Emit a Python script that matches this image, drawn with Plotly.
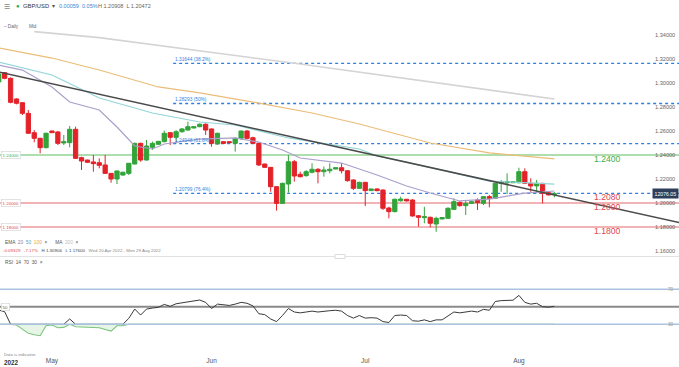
import pandas as pd
import plotly.graph_objects as go

W, H = 679, 367

# ---------------- data ----------------
# IG style daily sessions (Sunday to Friday), Wed 20 Apr 2022 .. Mon 8 Aug 2022
DATES = pd.bdate_range("2022-04-20", "2022-08-08", freq="C",
                       weekmask="Sun Mon Tue Wed Thu Fri")

OPEN = [1.3009, 1.3086, 1.3039, 1.2867, 1.2836, 1.2747, 1.2586, 1.2539, 1.2461, 1.2600,
        1.2592, 1.2500, 1.2503, 1.2614, 1.2378, 1.2358, 1.2342, 1.2336, 1.2317, 1.2247,
        1.2200, 1.2233, 1.2247, 1.2325, 1.2497, 1.2358, 1.2464, 1.2489, 1.2511, 1.2586,
        1.2547, 1.2594, 1.2608, 1.2625, 1.2636, 1.2656, 1.2617, 1.2492, 1.2511, 1.2511,
        1.2497, 1.2539, 1.2600, 1.2544, 1.2497, 1.2325, 1.2297, 1.2136, 1.1997, 1.2158,
        1.2344, 1.2239, 1.2228, 1.2256, 1.2281, 1.2261, 1.2269, 1.2283, 1.2294, 1.2269,
        1.2192, 1.2122, 1.2172, 1.2103, 1.2117, 1.2108, 1.1958, 1.1928, 1.2019, 1.2031,
        1.2025, 1.1894, 1.1878, 1.1881, 1.1825, 1.1867, 1.1872, 1.1947, 1.2006, 1.1978,
        1.1997, 1.2025, 1.1997, 1.2053, 1.2039, 1.2164, 1.2169, 1.2169, 1.2169, 1.2261,
        1.2164, 1.2142, 1.2164, 1.2086, 1.2070]
HIGH = [1.3086, 1.3091, 1.3047, 1.2872, 1.2839, 1.2775, 1.2608, 1.2544, 1.2586, 1.2603,
        1.2600, 1.2567, 1.2642, 1.2636, 1.2386, 1.2361, 1.2400, 1.2372, 1.2400, 1.2250,
        1.2270, 1.2261, 1.2333, 1.2503, 1.2503, 1.2525, 1.2511, 1.2517, 1.2603, 1.2589,
        1.2608, 1.2625, 1.2678, 1.2639, 1.2664, 1.2664, 1.2622, 1.2586, 1.2514, 1.2514,
        1.2544, 1.2603, 1.2608, 1.2553, 1.2503, 1.2328, 1.2300, 1.2142, 1.2169, 1.2400,
        1.2358, 1.2261, 1.2275, 1.2331, 1.2289, 1.2303, 1.2331, 1.2297, 1.2331, 1.2275,
        1.2197, 1.2178, 1.2175, 1.2119, 1.2122, 1.2114, 1.1969, 1.2036, 1.2053, 1.2033,
        1.2031, 1.1900, 1.1969, 1.1886, 1.1886, 1.1881, 1.1964, 1.2039, 1.2014, 1.2025,
        1.2019, 1.2039, 1.2058, 1.2067, 1.2169, 1.2192, 1.2247, 1.2181, 1.2294, 1.2289,
        1.2206, 1.2192, 1.2167, 1.2089, 1.2091]
LOW = [1.3000, 1.3031, 1.2831, 1.2822, 1.2733, 1.2575, 1.2506, 1.2414, 1.2456, 1.2583,
       1.2483, 1.2483, 1.2464, 1.2367, 1.2275, 1.2333, 1.2261, 1.2289, 1.2242, 1.2169,
       1.2158, 1.2228, 1.2233, 1.2322, 1.2344, 1.2353, 1.2442, 1.2486, 1.2506, 1.2483,
       1.2497, 1.2586, 1.2603, 1.2622, 1.2631, 1.2567, 1.2469, 1.2483, 1.2492, 1.2500,
       1.2428, 1.2525, 1.2531, 1.2492, 1.2308, 1.2294, 1.2094, 1.1936, 1.1992, 1.2086,
       1.2178, 1.2214, 1.2219, 1.2247, 1.2164, 1.2219, 1.2247, 1.2281, 1.2247, 1.2178,
       1.2108, 1.2117, 1.1975, 1.2100, 1.2097, 1.1942, 1.1872, 1.1922, 1.2011, 1.2014,
       1.1886, 1.1803, 1.1831, 1.1797, 1.1760, 1.1864, 1.1867, 1.1942, 1.1969, 1.1900,
       1.1992, 1.1942, 1.1983, 1.1964, 1.2033, 1.2094, 1.2075, 1.2167, 1.2164, 1.2158,
       1.2094, 1.2081, 1.1997, 1.2064, 1.2047]
CLOSE = [1.3075, 1.3039, 1.2839, 1.2831, 1.2747, 1.2581, 1.2539, 1.2461, 1.2581, 1.2586,
         1.2497, 1.2511, 1.2614, 1.2372, 1.2350, 1.2339, 1.2328, 1.2314, 1.2247, 1.2200,
         1.2267, 1.2256, 1.2331, 1.2497, 1.2358, 1.2475, 1.2497, 1.2514, 1.2581, 1.2547,
         1.2594, 1.2617, 1.2636, 1.2636, 1.2656, 1.2608, 1.2497, 1.2581, 1.2497, 1.2503,
         1.2539, 1.2600, 1.2539, 1.2497, 1.2317, 1.2297, 1.2136, 1.1997, 1.2164, 1.2344,
         1.2225, 1.2219, 1.2261, 1.2281, 1.2261, 1.2275, 1.2281, 1.2294, 1.2269, 1.2186,
         1.2122, 1.2172, 1.2103, 1.2117, 1.2103, 1.1956, 1.1928, 1.2031, 1.2033, 1.2017,
         1.1892, 1.1881, 1.1886, 1.1831, 1.1872, 1.1878, 1.1956, 1.2011, 1.1978, 1.1997,
         1.2011, 1.2003, 1.2053, 1.2039, 1.2164, 1.2178, 1.2178, 1.2178, 1.2261, 1.2164,
         1.2142, 1.2164, 1.2081, 1.2067, 1.2076]

EMA20_DATES = ["2022-04-20", "2022-04-25", "2022-05-01", "2022-05-04", "2022-05-10",
               "2022-05-13", "2022-05-17", "2022-05-20", "2022-05-23", "2022-05-30",
               "2022-06-06", "2022-06-10", "2022-06-15", "2022-06-19", "2022-06-27",
               "2022-07-04", "2022-07-10", "2022-07-14", "2022-07-20", "2022-07-26",
               "2022-08-02", "2022-08-08"]
EMA20 = [1.3150, 1.3108, 1.2967, 1.2842, 1.2775, 1.2633, 1.2475, 1.2450, 1.2492, 1.2533,
         1.2542, 1.2508, 1.2442, 1.2375, 1.2333, 1.2233, 1.2142, 1.2083, 1.2017, 1.2033,
         1.2083, 1.2100]

EMA50_DATES = ["2022-04-20", "2022-05-01", "2022-05-10", "2022-05-20", "2022-05-30",
               "2022-06-06", "2022-06-16", "2022-06-30", "2022-07-04", "2022-07-13",
               "2022-07-26", "2022-08-08"]
EMA50 = [1.3175, 1.3067, 1.2875, 1.2750, 1.2675, 1.2650, 1.2542, 1.2450, 1.2392, 1.2308,
         1.2183, 1.2158]

EMA100_DATES = ["2022-04-20", "2022-05-01", "2022-05-10", "2022-05-22", "2022-05-30",
                "2022-06-10", "2022-06-21", "2022-06-30", "2022-07-14", "2022-07-26",
                "2022-08-08"]
EMA100 = [1.3292, 1.3208, 1.3108, 1.2967, 1.2917, 1.2833, 1.2750, 1.2658, 1.2500, 1.2417,
          1.2367]

MA200_DATES = ["2022-04-27", "2022-05-10", "2022-06-19", "2022-07-18", "2022-08-08"]
MA200 = [1.3428, 1.3378, 1.3158, 1.2992, 1.2867]

TREND_DATES = ["2022-04-19", "2022-09-02"]
TREND = [1.3103, 1.1827]

RSI = [46.2, 44.3, 29.9, 29.1, 24.0, 19.6, 18.0, 16.9, 28.3, 29.1,
       26.0, 26.4, 36.0, 27.1, 26.8, 26.4, 26.2, 26.0, 24.0, 22.2,
       28.3, 28.3, 36.7, 47.4, 40.5, 47.4, 48.5, 49.3, 52.7, 50.5,
       53.4, 54.5, 55.7, 56.5, 57.7, 55.0, 48.0, 53.0, 52.0, 51.5,
       53.0, 55.0, 54.0, 51.0, 42.0, 41.0, 36.0, 33.0, 40.0, 48.0,
       44.0, 43.0, 44.0, 45.0, 44.0, 45.0, 45.5, 46.0, 45.0, 40.0,
       37.0, 40.0, 37.0, 37.5, 37.0, 33.0, 32.0, 40.0, 40.5, 40.0,
       34.0, 33.5, 35.0, 33.0, 35.0, 35.0, 40.0, 44.0, 43.0, 44.0,
       45.0, 44.0, 47.0, 46.0, 56.0, 57.0, 57.5, 57.5, 63.0, 55.0,
       53.0, 54.0, 50.0, 49.5, 50.5]

LEVELS = [1.24, 1.20, 1.18]
LEVEL_COLORS = ["#3fae49", "#e2474b", "#e2474b"]
LEVEL_LINE_COLORS = ["#93d293", "#ec9a9a", "#ec9a9a"]
LEVEL_BOX_TEXT = ["1.24000", "1.20000", "1.18000"]
BIG_LABELS = [("1.2400", 1.2400, "#3fae49"), ("1.2080", 1.2080, "#e2474b"),
              ("1.2000", 1.2000, "#e2474b"), ("1.1800", 1.1800, "#e2474b")]

FIB_LEVELS = [1.31644, 1.28293, 1.24948, 1.20799]
FIB_LABELS = ["1.31644 (38.2%)", "1.28293 (50%)", "1.24948 (61.8%)", "1.20799 (76.4%)"]
FIB_START = "2022-05-24 12:00"

PRICE_TICKS = [1.16, 1.18, 1.20, 1.22, 1.24, 1.26, 1.28, 1.30, 1.32, 1.34]
RSI_TICKS = [30, 70]
MONTH_TICKS = ["2022-05-01", "2022-06-01", "2022-07-01", "2022-08-01"]
MONTH_LABELS = ["May", "Jun", "Jul", "Aug"]
LAST_PRICE = 1.2076
LAST_LABEL = "12076.05"

X_RANGE = ["2022-04-20 05:00", "2022-09-01 02:00"]

FONT = "Liberation Sans, Arial, sans-serif"
GREEN = "#33a43a"
RED = "#e3222a"


def px(x):
    return x / W


def py(y):
    return 1 - y / H


MAIN_DOM = [py(255), py(18)]
RSI_DOM = [py(350.5), py(263)]

fig = go.Figure()

# moving averages + trend line
for xs, ys, col, wd in [(MA200_DATES, MA200, "#d4d4d4", 1.6),
                        (EMA100_DATES, EMA100, "#ebbd78", 1.2),
                        (EMA50_DATES, EMA50, "#93d5d8", 1.2),
                        (EMA20_DATES, EMA20, "#ab9fcb", 1.2),
                        (TREND_DATES, TREND, "#4a4a4a", 1.5)]:
    fig.add_trace(go.Scatter(x=xs, y=ys, mode="lines", line=dict(color=col, width=wd),
                             hoverinfo="skip", showlegend=False, xaxis="x", yaxis="y"))

fig.add_trace(go.Candlestick(
    x=DATES, open=OPEN, high=HIGH, low=LOW, close=CLOSE,
    increasing=dict(line=dict(color=GREEN, width=1), fillcolor=GREEN),
    decreasing=dict(line=dict(color=RED, width=1), fillcolor=RED),
    whiskerwidth=0, showlegend=False, hoverinfo="skip", xaxis="x", yaxis="y"))

# RSI panel
rsi_low = [min(v, 30) for v in RSI]
rsi_high = [max(v, 30) for v in RSI]
fig.add_trace(go.Scatter(x=DATES, y=[30] * len(RSI), mode="lines",
                         line=dict(width=0, color="rgba(0,0,0,0)"), hoverinfo="skip",
                         showlegend=False, xaxis="x2", yaxis="y2"))
fig.add_trace(go.Scatter(x=DATES, y=rsi_low, mode="lines", fill="tonexty",
                         fillcolor="rgba(120,200,120,0.18)",
                         line=dict(color="#7cc47c", width=1.1), hoverinfo="skip",
                         showlegend=False, xaxis="x2", yaxis="y2"))
fig.add_trace(go.Scatter(x=DATES, y=rsi_high, mode="lines",
                         line=dict(color="#3a3a3a", width=1), hoverinfo="skip",
                         showlegend=False, xaxis="x2", yaxis="y2"))

shapes = []
for lv, col in zip(LEVELS, LEVEL_LINE_COLORS):
    shapes.append(dict(type="line", xref="paper", yref="y", x0=0, x1=1, y0=lv, y1=lv,
                       line=dict(color=col, width=1.6), layer="below"))
for lv in FIB_LEVELS:
    shapes.append(dict(type="line", xref="x", yref="y", x0=FIB_START, x1="2022-09-02",
                       y0=lv, y1=lv, line=dict(color="#2f7fe0", width=1.3, dash="dot"),
                       layer="below"))
shapes.append(dict(type="line", xref="paper", yref="y2", x0=0, x1=1, y0=50, y1=50,
                   line=dict(color="#8a8a8a", width=2), layer="below"))
for lv in [70, 30]:
    shapes.append(dict(type="line", xref="paper", yref="y2", x0=0, x1=1, y0=lv, y1=lv,
                       line=dict(color="#a9c3e0", width=1.3), layer="above"))
# panel splitter
shapes.append(dict(type="line", xref="paper", yref="paper", x0=0, x1=1,
                   y0=py(256.5), y1=py(256.5), line=dict(color="#e2e2e2", width=1)))
shapes.append(dict(type="rect", xref="paper", yref="paper", x0=px(335), x1=px(345),
                   y0=py(258.5), y1=py(254.5), line=dict(color="#c8c8c8", width=0.6),
                   fillcolor="white"))

ann = []


def txt(x, y, text, size=5.5, color="#555", anchor="left", **kw):
    ann.append(dict(x=px(x), y=py(y), xref="paper", yref="paper", text=text,
                    showarrow=False, xanchor=anchor, yanchor="middle",
                    font=dict(size=size, color=color, family=FONT), **kw))


# header
txt(2, 6.5, "☰", size=7, color="#888")
txt(14, 6.5, "●", size=6, color="#2aa845")
txt(21, 6.5, "GBP/USD", size=5.8, color="#333")
txt(50, 6.5, "▾", size=6, color="#555")
txt(57, 6.5, "0.00059", size=5.5, color="#3b86d1")
txt(80, 6.5, "0.05%", size=5.5, color="#3b86d1")
txt(96, 6.5, "H 1.20908  L 1.20472", size=5.5, color="#666")
txt(2, 26, "– Daily", size=4.6, color="#666")
txt(27, 26, "Mid", size=4.6, color="#666")

# legends under main chart
txt(3, 242, "EMA  <span style='color:#8a7fb8'>20</span>  "
            "<span style='color:#45a9cc'>50</span>  "
            "<span style='color:#e5a34d'>100</span>  ×      MA  "
            "<span style='color:#c0c0c0'>200</span>  ×", size=4.8, color="#555")
txt(1, 250.5, "<span style='color:#e2474b'>-0.09329   -7.17%</span>   H 1.30906   "
              "L 1.17600   <span style='color:#888'>Wed 20 Apr 2022 - Mon 29 Aug 2022</span>",
    size=4.4, color="#444")
txt(3, 262, "RSI  14  70  30  ×", size=4.8, color="#555")
txt(2, 354.5, "Data is indicative", size=4.2, color="#888")
txt(2, 362, "<b>2022</b>", size=6.3, color="#333")

# price scale labels (right, inside the plot)
for v in PRICE_TICKS:
    ann.append(dict(x=1, y=v, xref="paper", yref="y", text=f"{v:.5f}", showarrow=False,
                    xanchor="right", yanchor="middle", xshift=-2,
                    font=dict(size=5.6, color="#666", family=FONT)))
for v in RSI_TICKS:
    ann.append(dict(x=1, y=v, xref="paper", yref="y2", text=str(v), showarrow=False,
                    xanchor="right", yanchor="middle", xshift=-3,
                    font=dict(size=4.6, color="#999", family=FONT)))

# level boxes on the left and big labels on the right
for lv, col, t in zip(LEVELS, LEVEL_COLORS, LEVEL_BOX_TEXT):
    ann.append(dict(x=px(1), y=lv, xref="paper", yref="y", text=t, showarrow=False,
                    xanchor="left", yanchor="middle", bgcolor="white",
                    bordercolor="#cfcfcf", borderwidth=0.6, borderpad=1,
                    font=dict(size=4.4, color=col, family=FONT)))
for t, lv, col in BIG_LABELS:
    ann.append(dict(x=px(592), y=lv, xref="paper", yref="y", text=t, showarrow=False,
                    xanchor="left", yanchor="middle", yshift=-3.5,
                    font=dict(size=8.6, color=col, family=FONT)))
for lv, t in zip(FIB_LEVELS, FIB_LABELS):
    ann.append(dict(x=FIB_START, y=lv, xref="x", yref="y", text=t, showarrow=False,
                    xanchor="left", yanchor="bottom", yshift=-1,
                    font=dict(size=4.8, color="#2f7fe0", family=FONT)))
ann.append(dict(x=1, y=LAST_PRICE, xref="paper", yref="y", text=LAST_LABEL,
                showarrow=False, xanchor="right", yanchor="middle", bgcolor="#2e3f5c",
                borderpad=1.5, font=dict(size=5.2, color="white", family=FONT)))
ann.append(dict(x=px(1), y=50, xref="paper", yref="y2", text="50", showarrow=False,
                xanchor="left", yanchor="middle", bgcolor="white", bordercolor="#cfcfcf",
                borderwidth=0.6, borderpad=1, font=dict(size=4.4, color="#666", family=FONT)))

rb = [dict(bounds=["sat", "sun"])]

fig.update_layout(
    width=W, height=H, margin=dict(l=0, r=0, t=0, b=0),
    paper_bgcolor="white", plot_bgcolor="white",
    font=dict(family=FONT), showlegend=False,
    boxgap=0.15, boxgroupgap=0.15,
    shapes=shapes, annotations=ann,
    xaxis=dict(domain=[0, 1], range=X_RANGE, type="date", rangebreaks=rb,
               showticklabels=False, showgrid=False, zeroline=False, showline=False,
               rangeslider=dict(visible=False), anchor="y", ticks=""),
    xaxis2=dict(domain=[0, 1], matches="x", type="date", rangebreaks=rb, anchor="y2",
                tickvals=MONTH_TICKS, ticktext=MONTH_LABELS, ticks="outside", ticklen=4,
                tickcolor="rgba(0,0,0,0)", tickfont=dict(size=6.5, color="#555", family=FONT),
                showgrid=False, zeroline=False, showline=False),
    yaxis=dict(domain=MAIN_DOM, range=[1.15667, 1.35417], showticklabels=False,
               ticks="", showgrid=False, zeroline=False, showline=False, anchor="x"),
    yaxis2=dict(domain=RSI_DOM, range=[0, 100], showticklabels=False, ticks="",
                showgrid=False, zeroline=False, showline=False, anchor="x2"),
)

fig.write_html("out.html", config={"displayModeBar": False},
               post_script="document.body.style.margin='0';document.body.style.overflow='hidden';")
